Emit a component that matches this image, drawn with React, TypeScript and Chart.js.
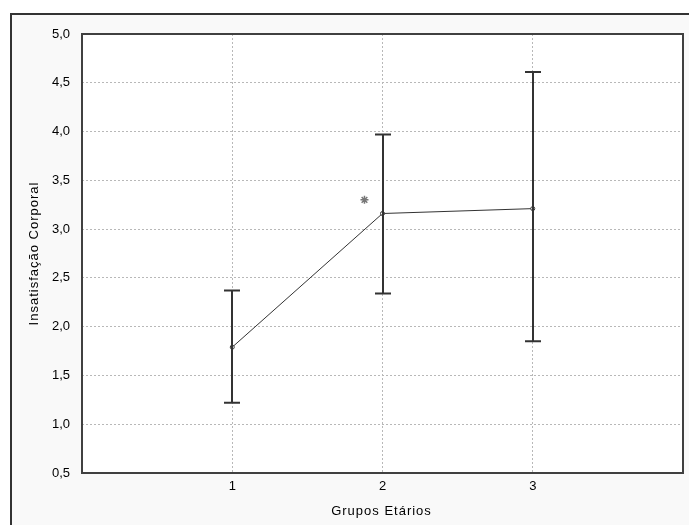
import React, { useEffect, useRef } from "react";
import { Chart, registerables } from "chart.js";

Chart.register(...registerables);

const groups = [1, 2, 3];
const groupLabels = ["1", "2", "3"];
const means = [1.79, 3.16, 3.21];
const upper = [2.37, 3.97, 4.61];
const lower = [1.22, 2.34, 1.85];
const markX = [1.88];
const markY = [3.3];
const yTicks = [0.5, 1.0, 1.5, 2.0, 2.5, 3.0, 3.5, 4.0, 4.5, 5.0];
const xTitle = "Grupos Etários";
const yTitle = "Insatisfação Corporal";

const FONT = "'Liberation Sans', Arial, sans-serif";

const framePlugin = {
  id: "frame",
  beforeDraw(chart: any) {
    const { ctx, chartArea } = chart;
    ctx.save();
    ctx.fillStyle = "#ffffff";
    ctx.fillRect(0, 0, chart.width, chart.height);
    ctx.fillStyle = "#f9f9f9";
    ctx.fillRect(11, 14, chart.width, chart.height);
    ctx.strokeStyle = "#333333";
    ctx.lineWidth = 2;
    ctx.beginPath();
    ctx.moveTo(11, chart.height + 5);
    ctx.lineTo(11, 14);
    ctx.lineTo(chart.width + 5, 14);
    ctx.stroke();
    ctx.fillStyle = "#ffffff";
    ctx.fillRect(chartArea.left, chartArea.top, chartArea.right - chartArea.left, chartArea.bottom - chartArea.top);
    ctx.restore();
  },
  afterDatasetsDraw(chart: any) {
    const { ctx, chartArea, scales } = chart;
    const xs = scales.x;
    const ys = scales.y;
    ctx.save();
    // error bars
    ctx.strokeStyle = "#333333";
    ctx.lineWidth = 2;
    for (let i = 0; i < groups.length; i++) {
      const px = Math.round(xs.getPixelForValue(groups[i]));
      const pu = ys.getPixelForValue(upper[i]);
      const pl = ys.getPixelForValue(lower[i]);
      ctx.beginPath();
      ctx.moveTo(px, pu);
      ctx.lineTo(px, pl);
      ctx.moveTo(px - 8, pu);
      ctx.lineTo(px + 8, pu);
      ctx.moveTo(px - 8, pl);
      ctx.lineTo(px + 8, pl);
      ctx.stroke();
    }
    // plot border
    ctx.strokeStyle = "#404040";
    ctx.lineWidth = 2;
    ctx.strokeRect(chartArea.left, chartArea.top, chartArea.right - chartArea.left, chartArea.bottom - chartArea.top);
    // titles
    ctx.fillStyle = "#000000";
    ctx.font = "13px " + FONT;
    (ctx as any).letterSpacing = "1px";
    ctx.textAlign = "center";
    ctx.textBaseline = "middle";
    ctx.fillText(xTitle, (chartArea.left + chartArea.right) / 2 - 1, 511);
    ctx.translate(34, (chartArea.top + chartArea.bottom) / 2);
    ctx.rotate(-Math.PI / 2);
    ctx.fillText(yTitle, 0, 0);
    ctx.restore();
  },
};

export default function App() {
  const ref = useRef<HTMLCanvasElement>(null);
  useEffect(() => {
    if (!ref.current) return;
    const chart = new Chart(ref.current, {
      type: "line",
      data: {
        datasets: [
          {
            data: groups.map((g, i) => ({ x: g, y: means[i] })),
            borderColor: "#333333",
            borderWidth: 1,
            pointRadius: 2,
            pointBackgroundColor: "#ffffff",
            pointBorderColor: "#333333",
            pointBorderWidth: 1,
            tension: 0,
          },
          {
            type: "scatter",
            data: markX.map((x, i) => ({ x, y: markY[i] })),
            pointStyle: "star",
            pointRadius: 4,
            borderColor: "#777777",
            backgroundColor: "#777777",
            borderWidth: 1.5,
            showLine: false,
          } as any,
        ],
      },
      options: {
        animation: false,
        responsive: false,
        layout: { padding: { left: 0, top: 34, right: 3, bottom: 0 } },
        plugins: { legend: { display: false }, tooltip: { enabled: false } },
        scales: {
          x: {
            type: "linear",
            min: 0,
            max: 4,
            afterFit(scale: any) {
              scale.height = 52;
            },
            afterBuildTicks(scale: any) {
              scale.ticks = [0, ...groups, 4].map((v) => ({ value: v }));
            },
            ticks: {
              padding: 6,
              color: "#000",
              font: { family: FONT, size: 13 },
              callback: (v: any) => {
                const i = groups.indexOf(Number(v));
                return i >= 0 ? groupLabels[i] : "";
              },
            },
            grid: {
              drawTicks: false,
              color: (c: any) => (c.tick && groups.includes(c.tick.value) ? "#b8b8b8" : "rgba(0,0,0,0)"),
              lineWidth: 1,
            },
            border: { display: false, dash: [2, 2] },
          },
          y: {
            min: 0.5,
            max: 5.0,
            afterFit(scale: any) {
              scale.width = 82;
            },
            afterBuildTicks(scale: any) {
              scale.ticks = yTicks.map((v) => ({ value: v }));
            },
            ticks: {
              padding: 12,
              color: "#000",
              font: { family: FONT, size: 13 },
              callback: (v: any) => Number(v).toFixed(1).replace(".", ","),
            },
            grid: {
              drawTicks: false,
              color: (c: any) =>
                c.tick && c.tick.value > 0.5 && c.tick.value < 5.0 ? "#b8b8b8" : "rgba(0,0,0,0)",
              lineWidth: 1,
            },
            border: { display: false, dash: [2, 2] },
          },
        },
      },
      plugins: [framePlugin],
    } as any);
    return () => chart.destroy();
  }, []);
  return (
    <div style={{ position: "fixed", left: 0, top: 0, width: 689, height: 525 }}>
      <canvas ref={ref} width={689} height={525} style={{ width: 689, height: 525 }} />
    </div>
  );
}
